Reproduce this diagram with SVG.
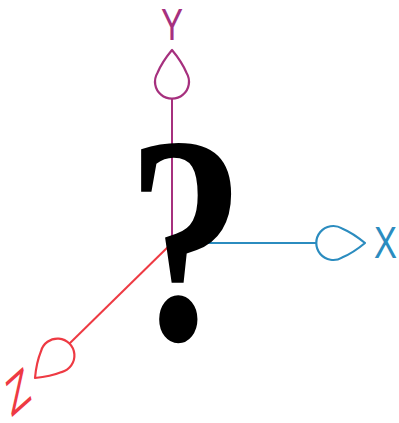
<svg xmlns="http://www.w3.org/2000/svg" width="399" height="423" viewBox="0 0 399 423">
  <style>
    .axis { fill: none; stroke-width: 2; }
    .head { fill: #fff; stroke-width: 2.2; stroke-linejoin: round; }
    .lbl { font-family: "Liberation Sans", Arial, sans-serif; font-size: 45px; }
    .x { stroke: #2b8cbf; }
    .y { stroke: #a6307e; }
    .z { stroke: #ee3a43; }
  </style>
  <defs>
    <path id="ah" d="M0,0 Q-12,-10 -23,-14.6 A17,17 0 1 0 -23,14.6 Q-12,10 0,0 Z"/>
  </defs>
  <rect width="399" height="423" fill="#fff"/>
  <g id="connectors">
    <line class="axis y" x1="172" y1="243" x2="172" y2="98"/>
    <line class="axis x" x1="172" y1="243" x2="316" y2="243"/>
    <line class="axis z" x1="172" y1="243" x2="69" y2="344"/>
  </g>
  <g id="axis-y">
    <use href="#ah" class="head y" transform="translate(172,50) rotate(-90)"/>
    <text class="lbl" x="172" y="40" text-anchor="middle" fill="#a6307e" textLength="22" lengthAdjust="spacingAndGlyphs">Y</text>
  </g>
  <g id="axis-x">
    <use href="#ah" class="head x" transform="translate(365,243)"/>
    <text class="lbl" x="374" y="258" fill="#2b8cbf" textLength="23" lengthAdjust="spacingAndGlyphs">X</text>
  </g>
  <g id="axis-z">
    <use href="#ah" class="head z" transform="translate(35,378) rotate(135)"/>
    <text class="lbl" transform="matrix(0.9,-0.8,0.25,1.08,11,418)" x="0" y="0" fill="#ee3a43" textLength="24" lengthAdjust="spacingAndGlyphs">Z</text>
  </g>
  <g id="question">
    <text transform="translate(186,0) scale(0.8,1)" x="0" y="339" text-anchor="middle" font-family="'Liberation Serif', 'Times New Roman', serif" font-weight="bold" font-size="296" fill="#000">?</text>
  </g>
</svg>
